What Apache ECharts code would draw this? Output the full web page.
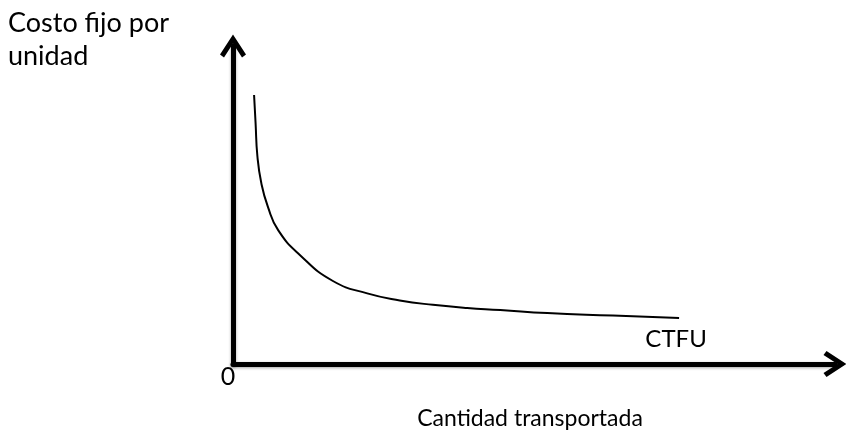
<!DOCTYPE html>
<html>
<head>
<meta charset="utf-8">
<script src="https://cdn.jsdelivr.net/npm/echarts@6/dist/echarts.min.js"></script>
<style>
  html, body { margin: 0; padding: 0; background: #fff; }
  #chart { width: 846px; height: 432px; }
</style>
</head>
<body>
<div id="chart"></div>
<script>
// curva de costo fijo por unidad
const cantidad = [3.5, 3.75, 4.05, 4.7, 5.8, 7.5, 11.1, 16.6, 22.3, 27.7, 33.2, 38.9, 44.4, 52.2, 63.1, 74.1]
const costo = [84.6, 75.8, 65.4, 56.9, 49.4, 42.1, 34.3, 26.1, 22.2, 20.0, 18.6, 17.6, 17.0, 16.0, 15.25, 14.5]
const curveName = 'CTFU'
const xTitle = 'Cantidad transportada'
const yTitle = 'Costo fijo por\nunidad'

const font = 'Lato, "Liberation Sans", sans-serif'
const chevron = 'path://M13,0 L26,20 L22,23 L13,9 L4,23 L0,20 Z'

const axisLine = {
  show: true,
  symbol: ['none', chevron],
  symbolSize: [26, 23],
  lineStyle: {
    color: '#000',
    width: 5,
    shadowColor: 'rgba(0,0,0,0.35)',
    shadowBlur: 3,
    shadowOffsetY: 1
  }
}

const points = cantidad.map((x, i) => [x, costo[i]])

const chart = echarts.init(document.getElementById('chart'))
chart.setOption({
  animation: false,
  backgroundColor: '#fff',
  title: {
    text: yTitle,
    left: 8,
    top: 7,
    padding: 0,
    textStyle: {
      fontFamily: font,
      fontWeight: 'normal',
      fontSize: 27,
      lineHeight: 33,
      color: '#000'
    }
  },
  grid: { left: 233, right: 11, top: 46, bottom: 68, outerBoundsMode: 'none' },
  xAxis: {
    type: 'value',
    min: 0,
    max: 100,
    interval: 100,
    name: xTitle,
    nameLocation: 'middle',
    nameGap: 43,
    nameTextStyle: { fontFamily: font, fontSize: 23, color: '#000', padding: [0, 8, 0, 0] },
    axisLine: axisLine,
    axisTick: { show: false },
    splitLine: { show: false },
    axisLabel: {
      margin: 0,
      fontFamily: font,
      fontSize: 25,
      color: '#000',
      padding: [0, 10, 0, 0],
      formatter: v => (v === 0 ? '0' : '')
    }
  },
  yAxis: {
    type: 'value',
    min: 0,
    max: 100,
    axisLine: axisLine,
    axisTick: { show: false },
    splitLine: { show: false },
    axisLabel: { show: false }
  },
  series: [{
    name: curveName,
    type: 'line',
    smooth: 0.5,
    symbol: 'none',
    lineStyle: { color: '#000', width: 2 },
    endLabel: {
      show: true,
      formatter: curveName,
      align: 'center',
      verticalAlign: 'middle',
      distance: 0,
      offset: [-3, 21],
      fontFamily: font,
      fontSize: 24,
      color: '#000'
    },
    data: points
  }]
})
</script>
</body>
</html>
